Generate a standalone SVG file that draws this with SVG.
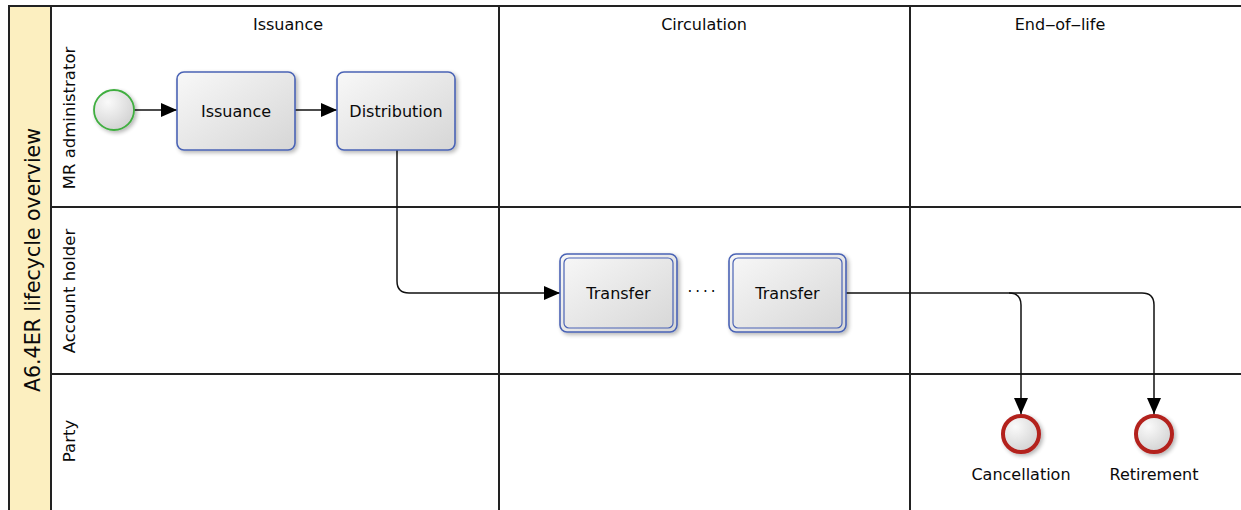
<svg xmlns="http://www.w3.org/2000/svg" width="1241" height="510" viewBox="0 0 1241 510">
  <style>
    .grid { stroke: #222; stroke-width: 2; fill: none; }
    .lbl { font-family: "Lucida Grande", "DejaVu Sans", "Liberation Sans", sans-serif; fill: #0a0a0a; }
    .hdr { font-size: 16px; text-anchor: middle; }
    .lane { font-size: 16.5px; text-anchor: middle; }
    .task { fill: url(#taskFill); stroke: #4a63b5; stroke-width: 1.6; filter: url(#shadow); }
    .inner { fill: none; stroke: #4a63b5; stroke-width: 1.2; }
    .tasktxt { font-size: 16px; text-anchor: middle; }
    .conn { stroke: #111; stroke-width: 1.5; fill: none; }
  </style>
  <defs>
    <linearGradient id="taskFill" x1="0" y1="0" x2="1" y2="1">
      <stop offset="0" stop-color="#f8f8f8"/>
      <stop offset="1" stop-color="#d6d6d6"/>
    </linearGradient>
    <radialGradient id="eventFill" cx="0.35" cy="0.3" r="0.8">
      <stop offset="0" stop-color="#fafafa"/>
      <stop offset="1" stop-color="#cfcfcf"/>
    </radialGradient>
    <filter id="shadow" x="-10%" y="-10%" width="130%" height="130%">
      <feGaussianBlur in="SourceAlpha" stdDeviation="2"/>
      <feOffset dx="2" dy="2" result="b"/>
      <feComponentTransfer><feFuncA type="linear" slope="0.3"/></feComponentTransfer>
      <feMerge><feMergeNode/><feMergeNode in="SourceGraphic"/></feMerge>
    </filter>
    <marker id="arrow" viewBox="0 0 16 14" refX="16" refY="7" markerWidth="16" markerHeight="14" markerUnits="userSpaceOnUse" orient="auto">
      <path d="M0,0 L16,7 L0,14 Z" fill="#000"/>
    </marker>
  </defs>

  <rect width="1241" height="510" fill="#fff"/>

  <!-- pool header band -->
  <g id="pool">
    <rect x="9" y="6" width="42" height="510" fill="#fcefc0" stroke="#222" stroke-width="2"/>
    <text class="lbl" font-size="20.5" text-anchor="middle" transform="translate(40,260) rotate(-90)">A6.4ER lifecycle overview</text>
  </g>

  <!-- lanes and phases -->
  <g id="grid">
    <line class="grid" x1="9" y1="6" x2="1241" y2="6"/>
    <line class="grid" x1="51" y1="207" x2="1241" y2="207"/>
    <line class="grid" x1="51" y1="374" x2="1241" y2="374"/>
    <line class="grid" x1="499" y1="6" x2="499" y2="510"/>
    <line class="grid" x1="910" y1="6" x2="910" y2="510"/>
    <text class="lbl hdr" x="288" y="30">Issuance</text>
    <text class="lbl hdr" x="704" y="30">Circulation</text>
    <text class="lbl hdr" x="1060" y="30">End‒of‒life</text>
    <text class="lbl lane" transform="translate(75,118) rotate(-90)">MR administrator</text>
    <text class="lbl lane" transform="translate(75,291) rotate(-90)">Account holder</text>
    <text class="lbl lane" transform="translate(75,441) rotate(-90)">Party</text>
  </g>

  <!-- connectors -->
  <g id="connectors">
    <line class="conn" x1="134" y1="110" x2="177" y2="110" marker-end="url(#arrow)"/>
    <line class="conn" x1="295" y1="110" x2="337" y2="110" marker-end="url(#arrow)"/>
    <path class="conn" d="M397,150 V281 Q397,293 409,293 H560" marker-end="url(#arrow)"/>
    <path class="conn" d="M846,293 H1009 Q1021,293 1021,305 V414" marker-end="url(#arrow)"/>
    <path class="conn" d="M1009,293 H1142 Q1154,293 1154,305 V414" marker-end="url(#arrow)"/>
    <text class="lbl" font-size="15" x="703" y="297" text-anchor="middle" letter-spacing="3">····</text>
  </g>

  <!-- nodes -->
  <g id="start">
    <circle cx="114" cy="110" r="20" fill="url(#eventFill)" stroke="#3fae3f" stroke-width="1.8" filter="url(#shadow)"/>
  </g>
  <g id="issuance">
    <rect class="task" x="177" y="72" width="118" height="78" rx="7"/>
    <text class="lbl tasktxt" x="236" y="117">Issuance</text>
  </g>
  <g id="distribution">
    <rect class="task" x="337" y="72" width="118" height="78" rx="7"/>
    <text class="lbl tasktxt" x="396" y="117">Distribution</text>
  </g>
  <g id="transfer1">
    <rect class="task" x="560" y="254" width="117" height="78" rx="7"/>
    <rect class="inner" x="564" y="258" width="109" height="70" rx="5"/>
    <text class="lbl tasktxt" x="618.5" y="299">Transfer</text>
  </g>
  <g id="transfer2">
    <rect class="task" x="729" y="254" width="117" height="78" rx="7"/>
    <rect class="inner" x="733" y="258" width="109" height="70" rx="5"/>
    <text class="lbl tasktxt" x="787.5" y="299">Transfer</text>
  </g>
  <g id="cancellation">
    <circle cx="1021" cy="434" r="18" fill="url(#eventFill)" stroke="#b3201f" stroke-width="4" filter="url(#shadow)"/>
    <text class="lbl tasktxt" x="1021" y="480">Cancellation</text>
  </g>
  <g id="retirement">
    <circle cx="1154" cy="434" r="18" fill="url(#eventFill)" stroke="#b3201f" stroke-width="4" filter="url(#shadow)"/>
    <text class="lbl tasktxt" x="1154" y="480">Retirement</text>
  </g>
</svg>
